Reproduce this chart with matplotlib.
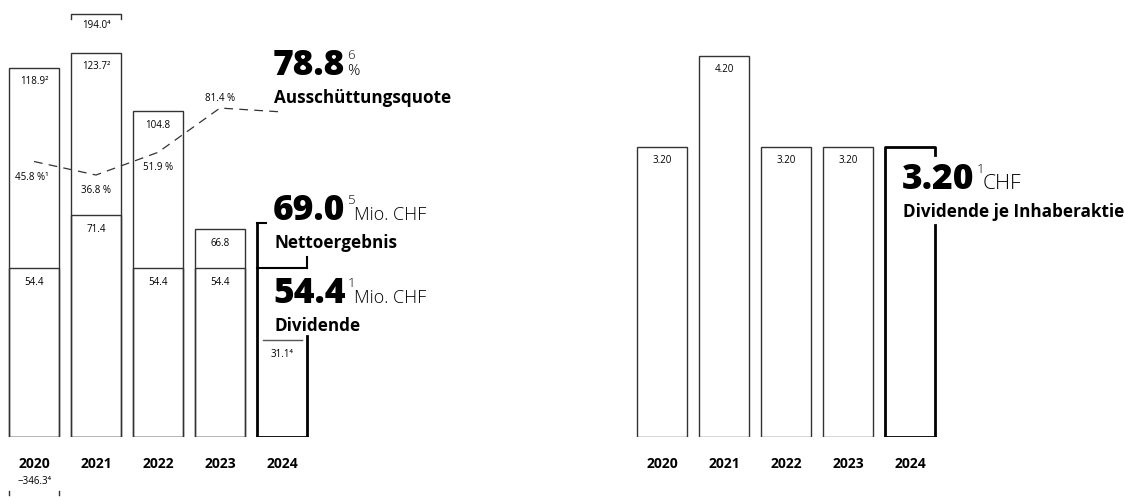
import matplotlib.pyplot as plt
import matplotlib.transforms as mtransforms

plt.rcParams['font.family'] = ['Open Sans', 'DejaVu Sans']

# data
years = ['2020', '2021', '2022', '2023', '2024']
net_income = [118.9, 123.7, 104.8, 66.8, 69.0]          # Mio. CHF
net_labels = ['118.9²', '123.7²', '104.8', '66.8', '']
dividend = [54.4, 71.4, 54.4, 54.4, 54.4]               # Mio. CHF
div_labels = ['54.4', '71.4', '54.4', '54.4', '']
payout = [45.8, 36.8, 51.9, 81.4, 78.8]                 # %
payout_labels = ['45.8 %¹', '36.8 %', '51.9 %', '81.4 %', '']
extra_2024 = 31.1
extra_2024_label = '31.1⁴'
over_2021 = '194.0⁴'
under_2020 = '−346.3⁴'
div_per_share = [3.20, 4.20, 3.20, 3.20, 3.20]          # CHF
dps_labels = ['3.20', '4.20', '3.20', '3.20', '']

W, H = 1125, 497
fig = plt.figure(figsize=(W / 100, H / 100), dpi=100)
renderer = fig.canvas.get_renderer()

thin = '#333333'
bw = 50 / 62
x = list(range(len(years)))
small = 7


def fx(px):
    return px / W


def fy(py):
    return 1 - py / H


def ay(py):
    return (437 - py) / 437


# ---------------- left chart ----------------
ax = fig.add_axes([0, 60 / H, 620 / W, 437 / H])
ax.set_xlim(-34 / 62, 586 / 62)
ax.set_ylim(0, 437 / 3.107)
ax.axis('off')

ax.bar(x[:4], net_income[:4], width=bw, facecolor='white', edgecolor=thin, linewidth=1)
ax.bar(x[:4], dividend[:4], width=bw, facecolor='none', edgecolor=thin, linewidth=1)

for i in x[:4]:
    ax.annotate(net_labels[i], (i, net_income[i]), xytext=(0, -10), textcoords='offset points',
                ha='center', va='center', fontsize=small)
    ax.annotate(div_labels[i], (i, dividend[i]), xytext=(0, -10.5), textcoords='offset points',
                ha='center', va='center', fontsize=small)

# 2024 bracket-style bar
l, r = 4 - bw / 2, 4 + bw / 2
k = dict(color='black', lw=2, solid_capstyle='projecting')
ax.plot([l, r], [0, 0], **k)
ax.plot([l, l], [0, net_income[4]], **k)
ax.plot([l, l + 0.14], [net_income[4], net_income[4]], lw=1.5, color='black')
ax.plot([l, r], [dividend[4], dividend[4]], lw=1.5, color='black')
ax.plot([r, r], [dividend[4], dividend[4] + 3.5], lw=1.5, color='black')
ax.plot([r, r], [0, 32.5], **k)
ax.plot([l + 0.1, r - 0.08], [extra_2024, extra_2024], lw=1, color='#555555')
ax.annotate(extra_2024_label, (4, extra_2024), xytext=(0, -10.5), textcoords='offset points',
            ha='center', va='center', fontsize=small)

# payout ratio (secondary scale)
ax2 = ax.twinx()
ax2.set_ylim(-(437 - 230.3) / 1.502, 230.3 / 1.502)
ax2.axis('off')
ax2.plot(x, payout, ls=(0, (7, 5)), color=thin, lw=0.9)
offs = [-11.5, -11.5, -11, 7, 0]
dxs = [-1.5, 0, 0, 0, 0]
for i in x[:4]:
    ax2.annotate(payout_labels[i], (i, payout[i]), xytext=(dxs[i], offs[i]), textcoords='offset points',
                 ha='center', va='center', fontsize=small)

# off-scale markers
tr = mtransforms.blended_transform_factory(ax.transData, ax.transAxes)
ax.plot([1 - bw / 2, 1 - bw / 2, 1 + bw / 2, 1 + bw / 2], [ay(18.5), ay(14), ay(14), ay(18.5)],
        color=thin, lw=1, transform=tr, clip_on=False)
ax.text(1, ay(25.5), over_2021, transform=tr, ha='center', va='center', fontsize=small)
for xe in (0 - bw / 2, 0 + bw / 2):
    ax.plot([xe, xe], [ay(490.5), ay(495)], color=thin, lw=1, transform=tr, clip_on=False)
ax.text(0, ay(481), under_2020, transform=tr, ha='center', va='center', fontsize=small, clip_on=False)

for i in x:
    ax.text(i, ay(463.5), years[i], transform=tr, ha='center', va='center', fontsize=10,
            fontweight='bold', clip_on=False)

# ---------------- right chart ----------------
bx = fig.add_axes([620 / W, 60 / H, 505 / W, 437 / H])
bx.set_xlim(-42 / 62, 463 / 62)
bx.set_ylim(0, 437 / 90.6)
bx.axis('off')
bx.bar(x[:4], div_per_share[:4], width=bw, facecolor='white', edgecolor=thin, linewidth=1)
for i in x[:4]:
    bx.annotate(dps_labels[i], (i, div_per_share[i]), xytext=(0, -9.5), textcoords='offset points',
                ha='center', va='center', fontsize=small)
v = div_per_share[4]
bx.plot([l, r], [0, 0], **k)
bx.plot([l, l, r, r], [0, v, v, v - 0.09], **k)
bx.plot([r, r], [0, 2.34], **k)
trb = mtransforms.blended_transform_factory(bx.transData, bx.transAxes)
for i in x:
    bx.text(i, ay(463.5), years[i], transform=trb, ha='center', va='center', fontsize=10,
            fontweight='bold', clip_on=False)


# ---------------- key figures ----------------
def key_figure(x0, base, number, note, unit, label, stacked=False, unit_size=13, gap=7):
    t = fig.text(fx(x0), fy(base), number, fontsize=25.5, fontweight='heavy', va='baseline', ha='left')
    bb = t.get_window_extent(renderer)
    xe = bb.x1 / W + 2 / W
    fig.text(xe, fy(base - 26), note, fontsize=9.5, fontweight='light', va='top', ha='left')
    if stacked:
        fig.text(xe, fy(base), unit, fontsize=11, fontweight='light', va='baseline', ha='left')
    else:
        fig.text(xe + gap / W, fy(base), unit, fontsize=unit_size, fontweight='light',
                 va='baseline', ha='left')
    fig.text(fx(x0 + 1), fy(base + 28), label, fontsize=12.3, fontweight='bold', va='baseline', ha='left')


key_figure(273, 75, '78.8', '6', '%', 'Ausschüttungsquote', stacked=True)
key_figure(273, 220, '69.0', '5', 'Mio. CHF', 'Nettoergebnis')
key_figure(273, 303, '54.4', '1', 'Mio. CHF', 'Dividende')
key_figure(902, 189, '3.20', '1', 'CHF', 'Dividende je Inhaberaktie', unit_size=15, gap=6)

fig.savefig('out.png', dpi=100, facecolor='white')
